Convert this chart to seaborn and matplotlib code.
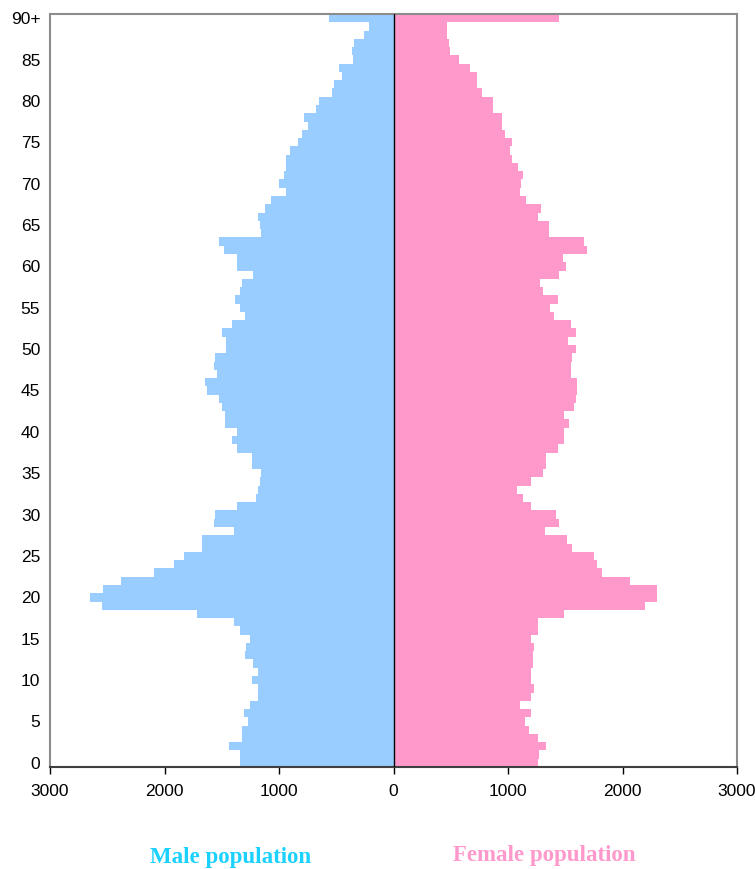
import pandas as pd
import matplotlib
matplotlib.use("Agg")
import matplotlib.pyplot as plt
import seaborn as sns

# Single-year ages 0..89 plus an open 90+ group
ages = [str(a) for a in range(90)] + ["90+"]

male = [1339, 1339, 1438, 1325, 1325, 1269, 1310, 1255, 1182, 1182,
        1240, 1182, 1226, 1298, 1284, 1255, 1339, 1397, 1715, 2550,
        2652, 2536, 2376, 2090, 1918, 1831, 1674, 1674, 1397, 1569,
        1555, 1368, 1197, 1182, 1168, 1153, 1240, 1240, 1368, 1412,
        1368, 1473, 1473, 1496, 1525, 1630, 1645, 1540, 1569, 1555,
        1467, 1467, 1496, 1412, 1298, 1339, 1383, 1339, 1325, 1226,
        1368, 1368, 1482, 1525, 1153, 1168, 1182, 1124, 1066, 937,
        996, 952, 937, 937, 908, 838, 795, 751, 780, 678,
        649, 533, 521, 448, 478, 352, 361, 347, 259, 218,
        562]

female = [1259, 1274, 1332, 1259, 1186, 1146, 1201, 1105, 1201, 1230,
          1201, 1201, 1216, 1216, 1230, 1204, 1259, 1259, 1489, 2197,
          2299, 2299, 2066, 1821, 1777, 1748, 1562, 1518, 1321, 1448,
          1419, 1204, 1131, 1076, 1204, 1306, 1335, 1335, 1434, 1492,
          1492, 1533, 1492, 1576, 1591, 1605, 1605, 1550, 1550, 1562,
          1591, 1521, 1591, 1550, 1405, 1364, 1434, 1303, 1277, 1448,
          1507, 1478, 1693, 1664, 1361, 1361, 1259, 1288, 1160, 1102,
          1116, 1131, 1090, 1032, 1018, 1032, 974, 945, 945, 872,
          872, 770, 726, 726, 668, 569, 496, 485, 470, 470,
          1449]

x_ticks = [-3000, -2000, -1000, 0, 1000, 2000, 3000]
y_tick_labels = ["90+"] + [str(a) for a in range(85, -1, -5)]

MALE_COLOR = "#99ccff"
FEMALE_COLOR = "#ff99cc"

df = pd.concat([
    pd.DataFrame({"age": ages, "population": [-v for v in male], "sex": "Male"}),
    pd.DataFrame({"age": ages, "population": female, "sex": "Female"}),
])

sns.set_style("white")
plt.rcParams["font.family"] = ["Liberation Sans", "DejaVu Sans"]

fig = plt.figure(figsize=(7.55, 8.69), dpi=100)
ax = fig.add_axes([50 / 755, 102 / 869, 687 / 755, 753 / 869])

order = ages[::-1]
sns.barplot(data=df, y="age", x="population", hue="sex", order=order,
            palette={"Male": MALE_COLOR, "Female": FEMALE_COLOR},
            dodge=False, width=1.0, linewidth=0, saturation=1,
            legend=False, ax=ax)

ax.axvline(0, color="black", lw=1, zorder=5)
ax.set_xlim(-3000, 3000)
ax.set_ylim(len(order) - 0.5, -0.5)
ax.set_xticks(x_ticks, [str(abs(t)) for t in x_ticks], fontsize=12.5)
ax.set_yticks([order.index(l) for l in y_tick_labels], y_tick_labels, fontsize=12.5)
ax.tick_params(axis="x", bottom=True, length=5, width=1, color="black",
               labelcolor="black", pad=7, direction="out")
ax.tick_params(axis="y", left=False, length=0, pad=7, labelcolor="black")
ax.set_xlabel("")
ax.set_ylabel("")

for side in ["left", "top", "right"]:
    ax.spines[side].set_color("#8c8c8c")
    ax.spines[side].set_linewidth(1.5)
ax.spines["bottom"].set_color("#404040")
ax.spines["bottom"].set_linewidth(1.5)

fig.text(231 / 755, 1 - 858 / 869, "Male population", color="#1ad1ff",
         fontsize=16.5, fontweight="bold", family="Liberation Serif",
         ha="center", va="center")
fig.text(544 / 755, 1 - 856 / 869, "Female population", color=FEMALE_COLOR,
         fontsize=16.5, fontweight="bold", family="Liberation Serif",
         ha="center", va="center")

fig.savefig("out.png", dpi=100)
